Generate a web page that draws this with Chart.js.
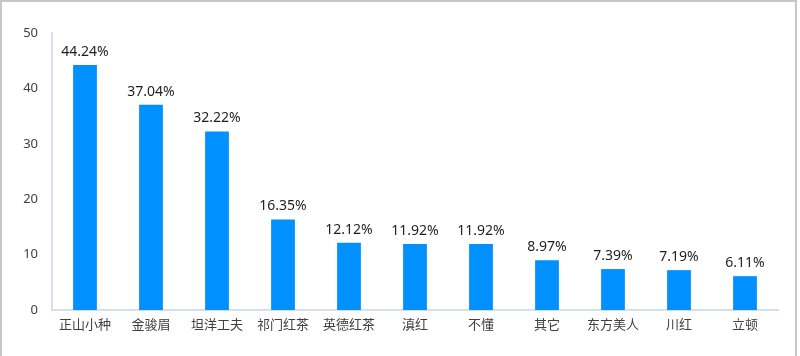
<!DOCTYPE html>
<html>
<head>
<meta charset="utf-8">
<script src="https://cdn.jsdelivr.net/npm/chart.js@4/dist/chart.umd.min.js"></script>
<style>
html,body{margin:0;padding:0;background:#fff;}
#wrap{position:relative;width:800px;height:356px;}
#frame{position:absolute;left:0;top:0;width:797px;height:360px;border-top:2px solid #c6c6c6;border-left:2px solid #c6c6c6;border-right:2px solid #c6c6c6;box-sizing:border-box;pointer-events:none;}
canvas{position:absolute;left:0;top:0;}
</style>
</head>
<body>
<div id="wrap"><canvas id="c" width="800" height="356"></canvas><div id="frame"></div></div>
<script>
const categories = ["正山小种","金骏眉","坦洋工夫","祁门红茶","英德红茶","滇红","不懂","其它","东方美人","川红","立顿"];
const values = [44.24, 37.04, 32.22, 16.35, 12.12, 11.92, 11.92, 8.97, 7.39, 7.19, 6.11];
const valueLabels = ["44.24%","37.04%","32.22%","16.35%","12.12%","11.92%","11.92%","8.97%","7.39%","7.19%","6.11%"];
const yTicks = [0, 10, 20, 30, 40, 50];

const FONT = "'Noto Sans', 'Noto Sans CJK SC', sans-serif";

const labelPlugin = {
  id: 'valueLabels',
  afterDatasetsDraw(chart) {
    const ctx = chart.ctx;
    const meta = chart.getDatasetMeta(0);
    ctx.save();
    ctx.font = "14px " + FONT;
    ctx.fillStyle = "#1f1f1f";
    ctx.textAlign = "center";
    ctx.textBaseline = "bottom";
    meta.data.forEach((bar, i) => {
      ctx.fillText(valueLabels[i], bar.x, bar.y - 6);
    });
    ctx.restore();
  }
};

new Chart(document.getElementById('c'), {
  type: 'bar',
  data: {
    labels: categories,
    datasets: [{
      data: values,
      backgroundColor: '#0090ff',
      borderWidth: 0,
      barPercentage: 0.72,
      categoryPercentage: 0.5
    }]
  },
  options: {
    responsive: false,
    animation: false,
    devicePixelRatio: 1,
    layout: { padding: { top: 33, right: 22, left: 0, bottom: 0 } },
    plugins: { legend: { display: false }, tooltip: { enabled: false } },
    scales: {
      x: {
        grid: { display: false, drawTicks: false },
        border: { display: true, color: '#d5dff0', width: 2 },
        ticks: { color: '#404040', font: { size: 13, family: FONT }, padding: 7, maxRotation: 0, autoSkip: false },
        afterFit(s) { s.height = 46; }
      },
      y: {
        min: 0, max: 50,
        afterBuildTicks(s) { s.ticks = yTicks.map(v => ({ value: v })); },
        grid: { display: false, drawTicks: false },
        border: { display: true, color: '#d5dff0', width: 2 },
        ticks: { color: '#404040', font: { size: 13, family: FONT }, padding: 14 },
        afterFit(s) { s.width = 52; }
      }
    }
  },
  plugins: [labelPlugin]
});
</script>
</body>
</html>
